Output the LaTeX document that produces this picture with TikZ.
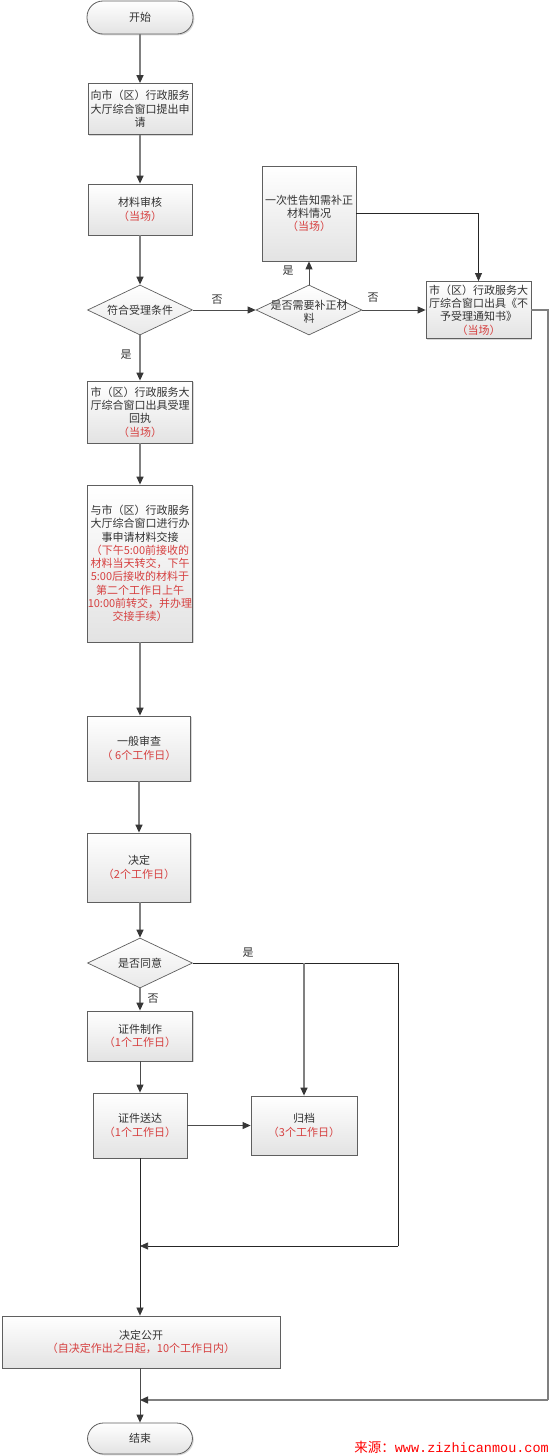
\documentclass[tikz,border=0pt]{standalone}
\usepackage{fontspec}
\setmainfont{Noto Sans CJK SC}
\newfontfamily\wmmono{Liberation Mono}
\usetikzlibrary{shapes.geometric,arrows.meta,shadows}
\definecolor{txt}{RGB}{51,51,51}
\definecolor{redtxt}{RGB}{214,64,64}
\definecolor{edgec}{RGB}{95,95,95}
\definecolor{flowc}{RGB}{128,128,128}
\definecolor{tipc}{RGB}{55,55,55}
\newcommand{\rt}[1]{\textcolor{redtxt}{#1}}
\tikzset{
  basefont/.style={font=\fontsize{11pt}{13.3pt}\selectfont, text=txt},
  box/.style={rectangle, draw=edgec, line width=0.8pt, top color=white, bottom color=black!11,
    drop shadow={shadow xshift=1.3pt, shadow yshift=-1.3pt, fill=black!30},
    align=center, inner sep=0pt, basefont},
  term/.style={box, rounded corners=16pt},
  dia/.style={diamond, draw=edgec, line width=0.7pt, top color=white, bottom color=black!9,
    inner sep=0pt},
  lbl/.style={basefont, align=center, inner sep=0pt},
  flow/.style={draw=flowc, line width=1.3pt, -{Triangle[length=8pt,width=7pt,color=tipc]}},
  flowplain/.style={draw=flowc, line width=1.3pt},
  mid/.style={draw=black!70, line width=0.9pt, -{Triangle[length=8pt,width=7pt,color=tipc]}},
  thin/.style={draw=black!85, line width=0.7pt},
  thinarr/.style={thin, -{Triangle[length=8pt,width=7pt,color=tipc]}},
}
\begin{document}
\begin{tikzpicture}[x=1pt,y=-1pt]
\useasboundingbox (0,0) rectangle (550,1456);

% nodes
\node[term, minimum width=106pt, minimum height=33pt] (st) at (140,17.5) {开始};
\node[box, minimum width=104pt, minimum height=51pt] (b1) at (140,109) {向市（区）行政服务\\大厅综合窗口提出申\\请};
\node[box, minimum width=104pt, minimum height=51pt] (b2) at (140,209.5) {材料审核\\\rt{（当场）}};
\node[dia, minimum width=105pt, minimum height=50pt] (d1) at (140,310) {};
\node[lbl] (d1t) at (d1.center) {符合受理条件};
\node[dia, minimum width=106pt, minimum height=50pt] (d2) at (309,310) {};
\node[lbl] (d2t) at (309,312) {是否需要补正材\\料};
\node[box, minimum width=94pt, minimum height=95pt] (c1) at (309,213.5) {一次性告知需补正\\材料情况\\\rt{（当场）}};
\node[box, minimum width=105pt, minimum height=57pt] (nb) at (478.5,310) {市（区）行政服务大\\厅综合窗口出具《不\\予受理通知书》\\\rt{（当场）}};
\node[box, minimum width=105pt, minimum height=62pt] (b3) at (140,412) {市（区）行政服务大\\厅综合窗口出具受理\\回执\\\rt{（当场）}};
\node[box, minimum width=105pt, minimum height=157pt] (b4) at (140,563.5) {与市（区）行政服务\\大厅综合窗口进行办\\事申请材料交接\\\rt{（下午5:00前接收的}\\\rt{材料当天转交，下午}\\\rt{5:00后接收的材料于}\\\rt{第二个工作日上午}\\\rt{10:00前转交，并办理}\\\rt{交接手续）}};
\node[box, minimum width=103pt, minimum height=65pt] (b5) at (139,748.5) {一般审查\\\rt{（ 6个工作日）}};
\node[box, minimum width=103pt, minimum height=69pt] (b6) at (139,867.5) {决定\\\rt{（2个工作日）}};
\node[dia, minimum width=105pt, minimum height=50pt] (d3) at (140,963) {};
\node[lbl] (d3t) at (d3.center) {是否同意};
\node[box, minimum width=105pt, minimum height=50pt] (b7) at (140,1036) {证件制作\\\rt{（1个工作日）}};
\node[box, minimum width=94pt, minimum height=65pt] (b8) at (140,1125.5) {证件送达\\\rt{（1个工作日）}};
\node[box, minimum width=106pt, minimum height=59pt] (b9) at (304,1125.5) {归档\\\rt{（3个工作日）}};
\node[box, minimum width=278pt, minimum height=52pt] (b10) at (141,1342) {决定公开\\\rt{（自决定作出之日起，10个工作日内）}};
\node[term, minimum width=105pt, minimum height=31pt] (en) at (140,1438.5) {结束};

% labels
\node[lbl] (l1) at (217,300) {否};
\node[lbl] (l2) at (288,271) {是};
\node[lbl] (l3) at (373,298) {否};
\node[lbl] (l4) at (126,355) {是};
\node[lbl] (l5) at (248,953) {是};
\node[lbl] (l6) at (153,999) {否};

% helper coordinates
\coordinate (r1) at (548,1400);
\coordinate (j1) at (140,1400);
\coordinate (r2) at (398,963);
\coordinate (r3) at (398,1246);
\coordinate (j2) at (140,1246);
\coordinate (br) at (304,963);

% connectors
\draw[flow] (st) -- (b1);
\draw[flow] (b1) -- (b2);
\draw[flow] (b2) -- (d1);
\draw[mid] (d1.east) -- (d2.west);
\draw[mid] (d2.north) -- (c1.south);
\draw[mid] (d2.east) -- (nb.west);
\draw[thinarr] (c1.east) -| (nb.north);
\draw[flowplain] (nb.east) -| (r1);
\draw[flow] (r1) -- (j1);
\draw[flow] (d1.south) -- (b3.north);
\draw[flow] (b3) -- (b4);
\draw[flow] (b4.south) -- (b4.south |- b5.north);
\draw[flow] (b5) -- (b6);
\draw[flow] (b6.south) -- (b6.south -| d3.north) -- (d3.north);
\draw[flow] (d3.south) -- (b7.north);
\draw[mid] (b7) -- (b8);
\draw[mid] (b8.east) -- (b9.west);
\draw[thin] (d3.east) -- (r2) -- (r3);
\draw[thinarr] (r3) -- (j2);
\draw[flow] (br) -- (b9.north);
\draw[thinarr] (b8.south) -- (b8.south |- b10.north);
\draw[mid] (b10.south -| en.north) -- (en.north);

% watermark
\node[anchor=base east, inner sep=0pt, text=red, font=\fontsize{13.5pt}{13.5pt}\selectfont] (wm) at (549,1452) {来源：{\wmmono www.zizhicanmou.com}};
\end{tikzpicture}
\end{document}
